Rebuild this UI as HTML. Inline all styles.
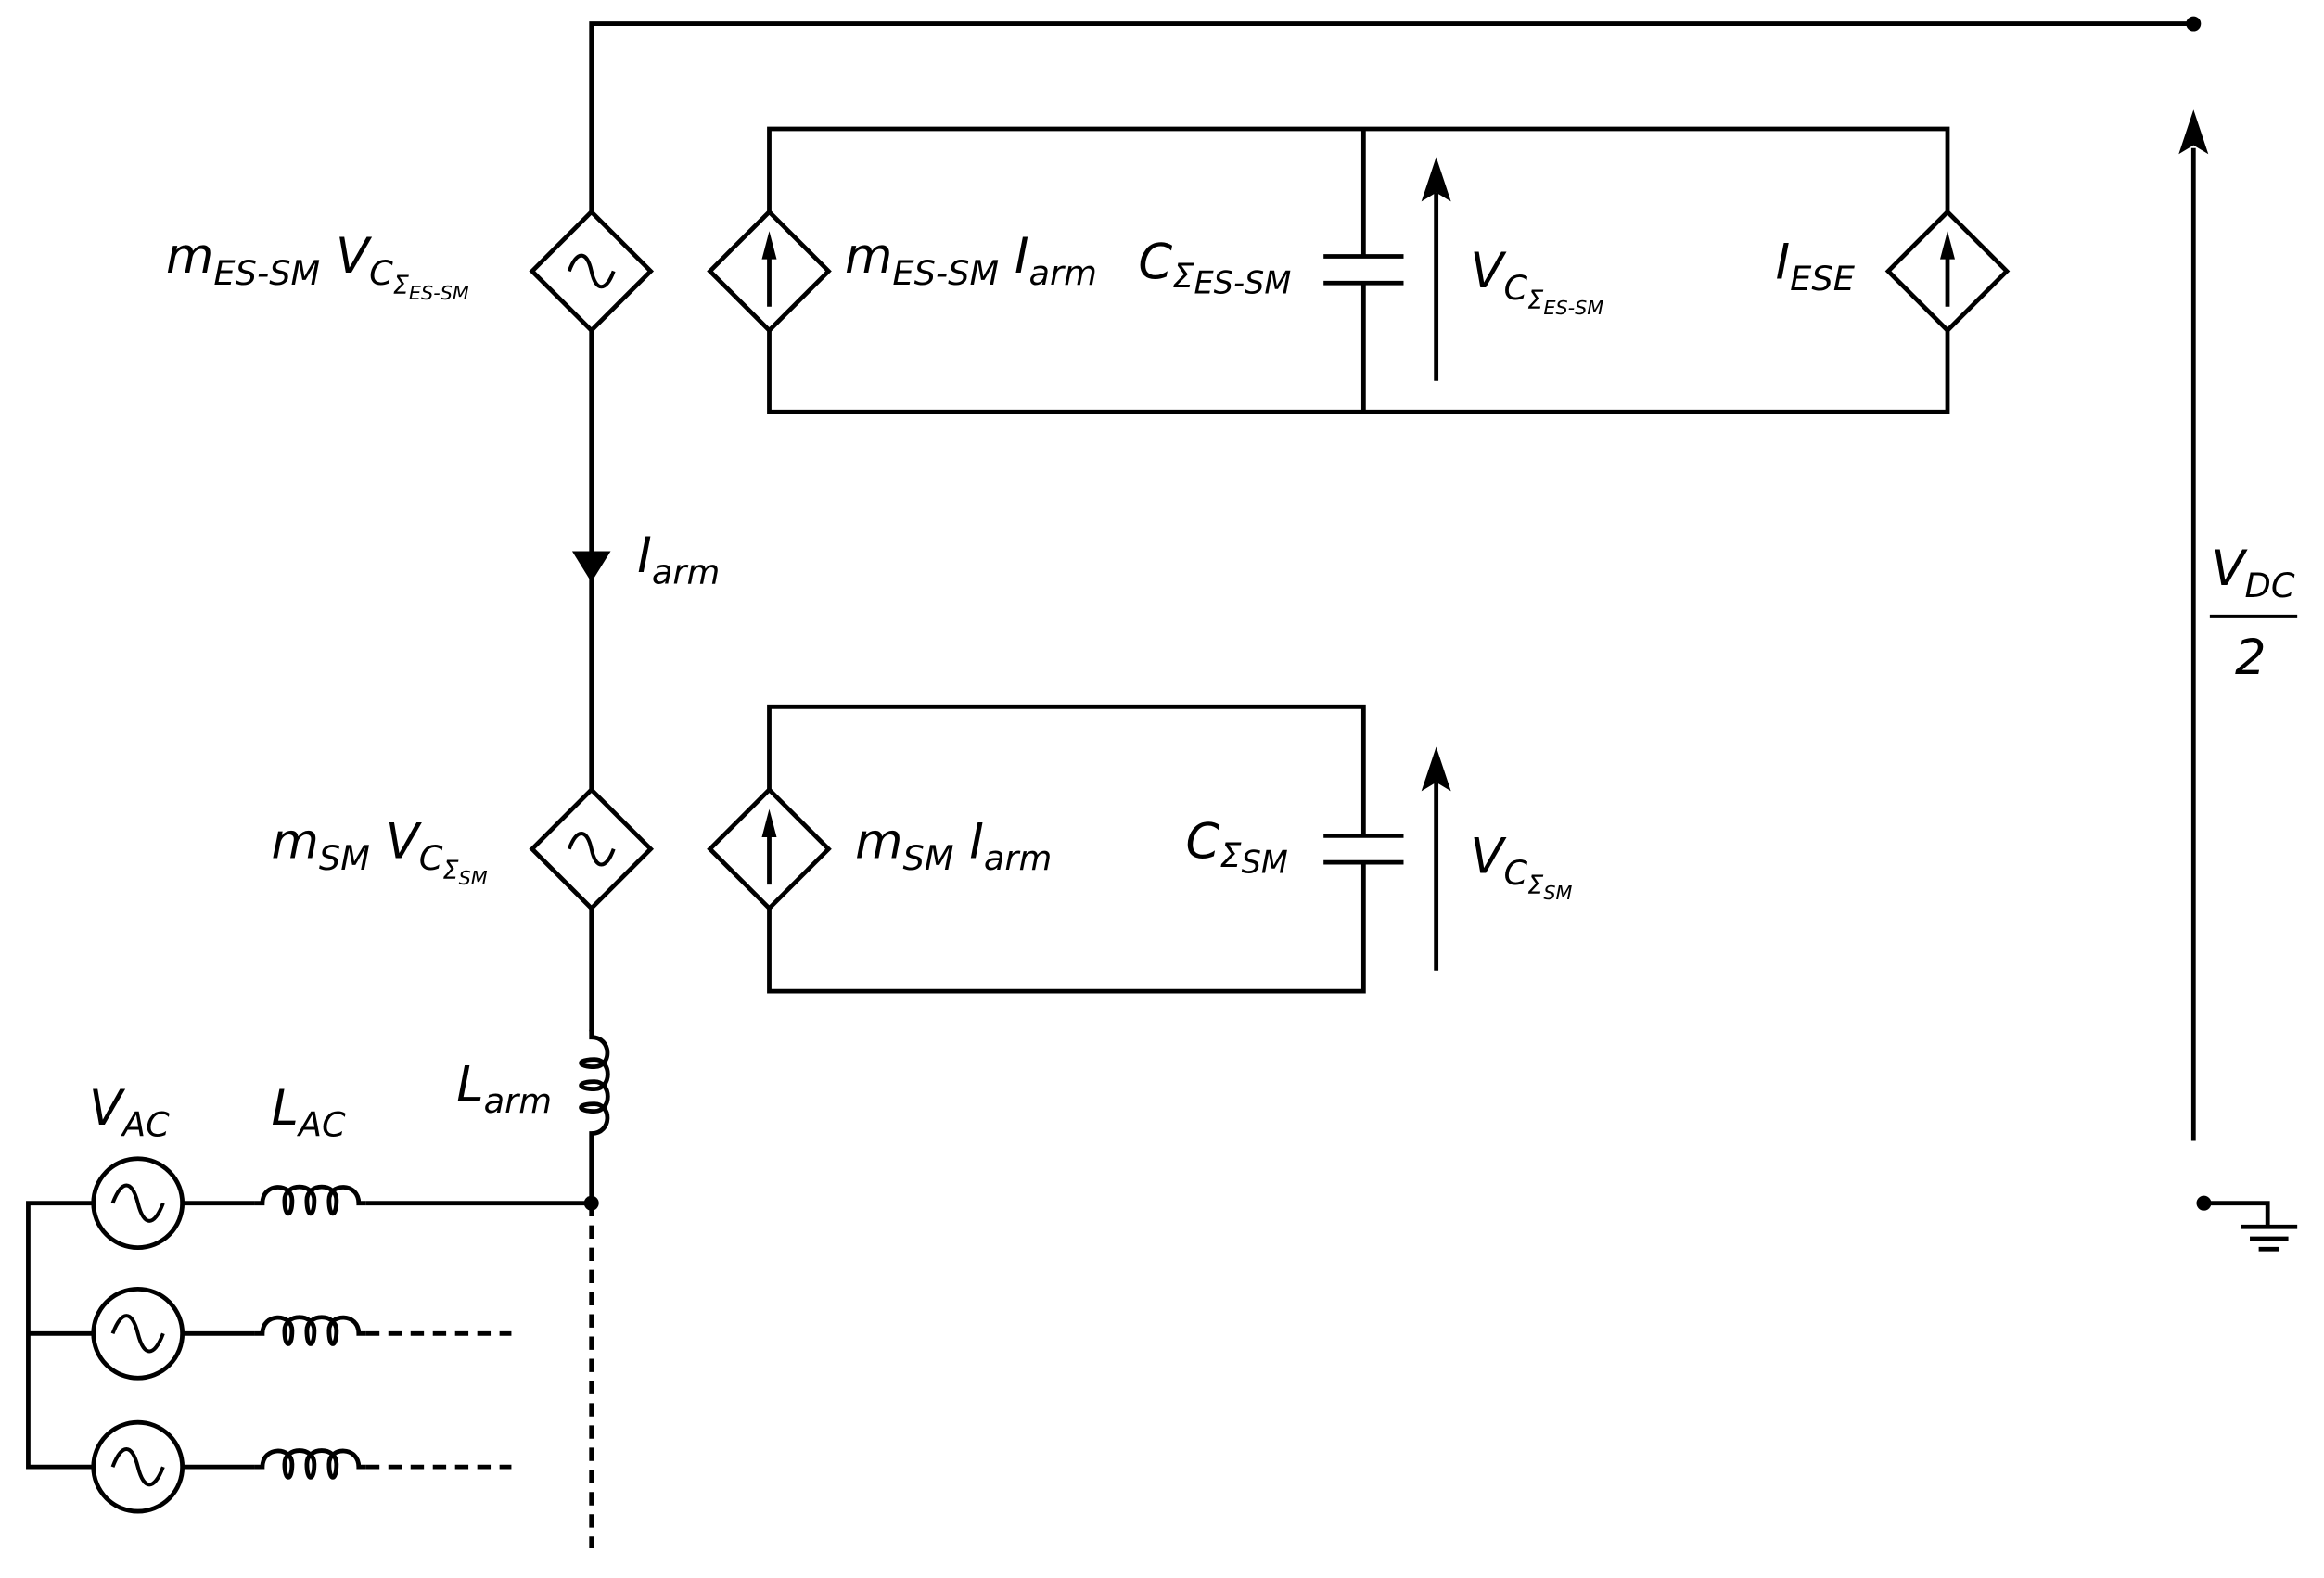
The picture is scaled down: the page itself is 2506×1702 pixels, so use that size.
<!DOCTYPE html>
<html><head><meta charset="utf-8"><style>html,body{margin:0;padding:0;background:#fff}svg{display:block}</style></head>
<body>
<svg width="2506" height="1702" viewBox="0 0 1568 1065" xmlns="http://www.w3.org/2000/svg" font-family="'DejaVu Sans','Liberation Sans',sans-serif" font-style="italic">
<defs>
<g id="coil"><path d="M0,0 L5,0 C5,-14 25,-14 25,-2 C25,10 20,10 20,-2 C20,-14 40,-14 40,-2 C40,10 35,10 35,-2 C35,-14 55,-14 55,-2 C55,10 50,10 50,-2 C50,-14 70,-14 70,0 L75,0" fill="none" stroke="#000" stroke-width="3"/></g>
<g id="vsrc"><path d="M0,-40 L40,0 L0,40 L-40,0 Z" fill="#fff" stroke="#000" stroke-width="3"/><path d="M-15,0 C-10,-14 -3,-14 0,0 C3,14 10,14 15,0" fill="none" stroke="#000" stroke-width="2.5"/></g>
<g id="isrc"><path d="M0,-40 L40,0 L0,40 L-40,0 Z" fill="#fff" stroke="#000" stroke-width="3"/><line x1="0" y1="24" x2="0" y2="-10" stroke="#000" stroke-width="3"/><path d="M-5,-8 L0,-27 L5,-8 Z" fill="#000"/></g>
<g id="acs"><circle r="30" fill="#fff" stroke="#000" stroke-width="3"/><path d="M-17,0 C-11,-16 -4,-16 0,0 C4,16 11,16 17,0" fill="none" stroke="#000" stroke-width="2.5"/></g>
</defs>
<g stroke="#000" stroke-width="3" fill="none">
<polyline points="399,143 399,16 1480,16"/>
<line x1="399" y1="223" x2="399" y2="533"/>
<line x1="399" y1="613" x2="399" y2="696"/>
<line x1="399" y1="770" x2="399" y2="812"/>
<line x1="399" y1="812" x2="399" y2="1045" stroke-dasharray="9,6"/>
<polyline points="519,143 519,87 1314,87 1314,143"/>
<polyline points="519,223 519,278 1314,278 1314,223"/>
<line x1="920" y1="87" x2="920" y2="173"/>
<line x1="920" y1="191" x2="920" y2="278"/>
<line x1="893" y1="173" x2="947" y2="173"/>
<line x1="893" y1="191" x2="947" y2="191"/>
<line x1="969" y1="257" x2="969" y2="130"/>
<polyline points="519,533 519,477 920,477 920,564"/>
<polyline points="519,613 519,669 920,669 920,582"/>
<line x1="893" y1="564" x2="947" y2="564"/>
<line x1="893" y1="582" x2="947" y2="582"/>
<line x1="969" y1="655" x2="969" y2="528"/>
<line x1="1480" y1="770" x2="1480" y2="100"/>
<polyline points="1487,812 1530,812 1530,828"/>
<line x1="1512" y1="828" x2="1550" y2="828"/>
<line x1="1518" y1="836" x2="1544" y2="836"/>
<line x1="1524" y1="843" x2="1538" y2="843"/>
<line x1="1491" y1="416" x2="1550" y2="416" stroke-width="2.5"/>
<polyline points="63,812 19,812 19,990 63,990"/>
<line x1="19" y1="900" x2="63" y2="900"/>
<line x1="123" y1="812" x2="172" y2="812"/>
<line x1="123" y1="900" x2="172" y2="900"/>
<line x1="123" y1="990" x2="172" y2="990"/>
<line x1="247" y1="812" x2="399" y2="812"/>
<line x1="247" y1="900" x2="345" y2="900" stroke-dasharray="9,6"/>
<line x1="247" y1="990" x2="345" y2="990" stroke-dasharray="9,6"/>
</g>
<g fill="#000">
<circle cx="1480" cy="16" r="5"/>
<circle cx="1487" cy="812" r="5"/>
<circle cx="399" cy="812" r="5"/>
<path d="M386,372 L412,372 L399,393 Z"/>
<path d="M959,136 L969,106 L979,136 L969,130 Z"/>
<path d="M959,534 L969,504 L979,534 L969,528 Z"/>
<path d="M1470,104 L1480,74 L1490,104 L1480,98 Z"/>
</g>
<use href="#vsrc" x="399" y="183"/>
<use href="#vsrc" x="399" y="573"/>
<use href="#isrc" x="519" y="183"/>
<use href="#isrc" x="1314" y="183"/>
<use href="#isrc" x="519" y="573"/>
<use href="#acs" x="93" y="812"/>
<use href="#acs" x="93" y="900"/>
<use href="#acs" x="93" y="990"/>
<use href="#coil" transform="translate(172,812)"/>
<use href="#coil" transform="translate(172,900)"/>
<use href="#coil" transform="translate(172,990)"/>
<use href="#coil" transform="translate(399,695) rotate(90)"/>
<g font-size="33" fill="#000">
<text x="112" y="184">m<tspan font-size="23" dy="8">ES-SM</tspan><tspan dy="-8"> V</tspan><tspan font-size="23" dy="8">C</tspan><tspan font-size="17" dy="6">Σ</tspan><tspan font-size="13" dy="4">ES-SM</tspan></text>
<text x="570" y="184">m<tspan font-size="23" dy="8">ES-SM</tspan><tspan dy="-8"> I</tspan><tspan font-size="23" dy="8">arm</tspan></text>
<text x="768" y="188">C<tspan font-size="23" dy="6">Σ</tspan><tspan font-size="21" dy="4">ES-SM</tspan></text>
<text x="992" y="194">V<tspan font-size="23" dy="8">C</tspan><tspan font-size="17" dy="6">Σ</tspan><tspan font-size="13" dy="4">ES-SM</tspan></text>
<text x="1198" y="188">I<tspan font-size="23" dy="8">ESE</tspan></text>
<text x="430" y="386">I<tspan font-size="23" dy="8">arm</tspan></text>
<text x="183" y="579">m<tspan font-size="23" dy="8">SM</tspan><tspan dy="-8"> V</tspan><tspan font-size="23" dy="8">C</tspan><tspan font-size="17" dy="6">Σ</tspan><tspan font-size="13" dy="4">SM</tspan></text>
<text x="577" y="579">m<tspan font-size="23" dy="8">SM</tspan><tspan dy="-8"> I</tspan><tspan font-size="23" dy="8">arm</tspan></text>
<text x="800" y="579">C<tspan font-size="23" dy="6">Σ</tspan><tspan font-size="21" dy="4">SM</tspan></text>
<text x="992" y="589">V<tspan font-size="23" dy="8">C</tspan><tspan font-size="17" dy="6">Σ</tspan><tspan font-size="13" dy="4">SM</tspan></text>
<text x="308" y="743">L<tspan font-size="23" dy="8">arm</tspan></text>
<text x="60" y="759">V<tspan font-size="23" dy="8">AC</tspan></text>
<text x="183" y="759">L<tspan font-size="23" dy="8">AC</tspan></text>
<text x="1492" y="395">V<tspan font-size="23" dy="8">DC</tspan></text>
<text x="1508" y="455">2</text>
</g>
</svg>
</body></html>
